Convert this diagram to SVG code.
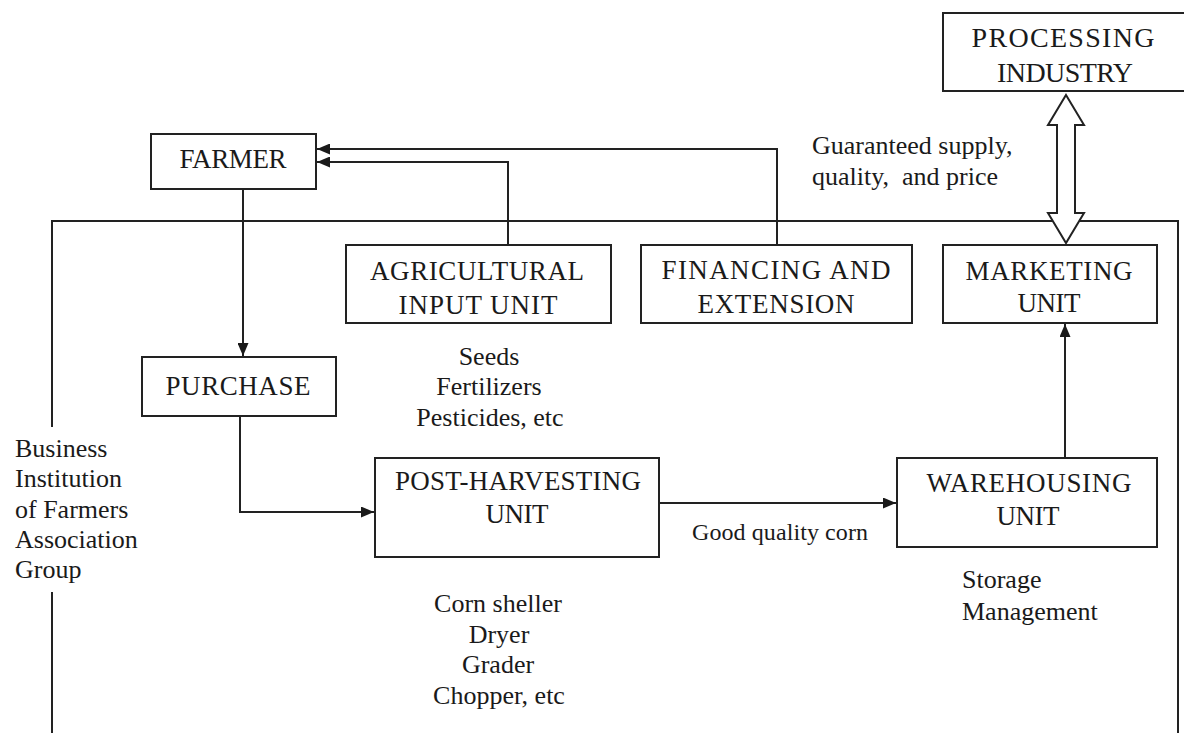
<svg xmlns="http://www.w3.org/2000/svg" width="1184" height="733" viewBox="0 0 1184 733">
<defs>
<marker id="ah" viewBox="0 0 13 11" refX="13" refY="5.5" markerWidth="13" markerHeight="11" markerUnits="userSpaceOnUse" orient="auto">
<path d="M0,0 L13,5.5 L0,11 Z" fill="#1a1a1a"/>
</marker>
</defs>
<style>
.box{fill:#fff;stroke:#222;stroke-width:2}
.ln{fill:none;stroke:#222;stroke-width:2}
.t{font-family:"Liberation Serif","Times New Roman",serif;font-size:27px;fill:#1a1a1a}
.s{font-family:"Liberation Serif","Times New Roman",serif;font-size:26px;fill:#1a1a1a}
.g{font-family:"Liberation Serif","Times New Roman",serif;font-size:24px;fill:#1a1a1a}
</style>
<rect width="1184" height="733" fill="#fff"/>

<g id="frame">
<path class="ln" d="M52,733 V592 M52,427 V221 H1178 V733"/>
<text class="s" x="15" y="457">Business</text>
<text class="s" x="15" y="487">Institution</text>
<text class="s" x="15" y="518">of Farmers</text>
<text class="s" x="15" y="548">Association</text>
<text class="s" x="15" y="578">Group</text>
</g>

<g id="connectors">
<path class="ln" d="M243,189 V356" marker-end="url(#ah)"/>
<path class="ln" d="M240,416 V512 H374" marker-end="url(#ah)"/>
<path class="ln" d="M659,503 H896" marker-end="url(#ah)"/>
<path class="ln" d="M1065,458 V324" marker-end="url(#ah)"/>
<path class="ln" d="M508,245 V162 H317" marker-end="url(#ah)"/>
<path class="ln" d="M777,245 V149 H317" marker-end="url(#ah)"/>
<path d="M1066,95 L1084,125 L1075,125 L1075,213 L1084,213 L1066,243 L1048,213 L1057,213 L1057,125 L1048,125 Z" fill="#fff" stroke="#222" stroke-width="2"/>
</g>

<g id="processing">
<rect class="box" x="943" y="13" width="245" height="78"/>
<text class="t" x="1063" y="47" text-anchor="middle" textLength="183" style="font-size:28px">PROCESSING</text>
<text class="t" x="1065" y="82" text-anchor="middle" textLength="136" style="font-size:28px">INDUSTRY</text>
</g>

<g id="guaranteed">
<text class="s" x="812" y="154">Guaranteed supply,</text>
<text class="s" x="812" y="185" xml:space="preserve">quality,  and price</text>
</g>

<g id="farmer">
<rect class="box" x="151" y="134" width="165" height="55"/>
<text class="t" x="233" y="168" text-anchor="middle" textLength="107">FARMER</text>
</g>

<g id="agri">
<rect class="box" x="346" y="245" width="265" height="78"/>
<text class="t" x="477" y="280" text-anchor="middle" textLength="214">AGRICULTURAL</text>
<text class="t" x="478" y="314" text-anchor="middle" textLength="159">INPUT UNIT</text>
<text class="s" x="489" y="365" text-anchor="middle">Seeds</text>
<text class="s" x="489" y="395" text-anchor="middle">Fertilizers</text>
<text class="s" x="490" y="426" text-anchor="middle">Pesticides, etc</text>
</g>

<g id="financing">
<rect class="box" x="641" y="245" width="271" height="78"/>
<text class="t" x="776" y="279" text-anchor="middle" textLength="229">FINANCING AND</text>
<text class="t" x="776" y="313" text-anchor="middle" textLength="157">EXTENSION</text>
</g>

<g id="marketing">
<rect class="box" x="943" y="245" width="214" height="78"/>
<text class="t" x="1049" y="280" text-anchor="middle" textLength="167">MARKETING</text>
<text class="t" x="1049" y="312" text-anchor="middle" textLength="63">UNIT</text>
</g>

<g id="purchase">
<rect class="box" x="142" y="357" width="194" height="59"/>
<text class="t" x="238" y="395" text-anchor="middle" textLength="145">PURCHASE</text>
</g>

<g id="postharvest">
<rect class="box" x="375" y="458" width="284" height="99"/>
<text class="t" x="518" y="490" text-anchor="middle" textLength="246">POST-HARVESTING</text>
<text class="t" x="517" y="523" text-anchor="middle" textLength="63">UNIT</text>
<text class="s" x="498" y="612" text-anchor="middle">Corn sheller</text>
<text class="s" x="499" y="643" text-anchor="middle">Dryer</text>
<text class="s" x="498" y="673" text-anchor="middle">Grader</text>
<text class="s" x="499" y="704" text-anchor="middle">Chopper, etc</text>
</g>

<g id="goodquality">
<text class="g" x="692" y="540" textLength="176">Good quality corn</text>
</g>

<g id="warehousing">
<rect class="box" x="897" y="458" width="260" height="89"/>
<text class="t" x="1029" y="492" text-anchor="middle" textLength="205">WAREHOUSING</text>
<text class="t" x="1028" y="525" text-anchor="middle" textLength="63">UNIT</text>
<text class="s" x="962" y="588">Storage</text>
<text class="s" x="962" y="620">Management</text>
</g>
</svg>
